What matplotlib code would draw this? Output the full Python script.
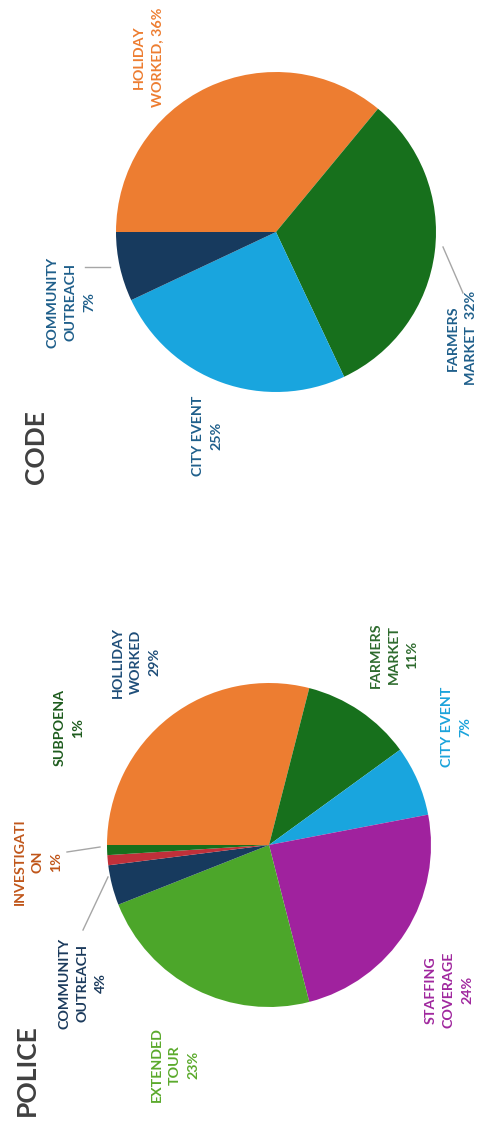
import matplotlib
matplotlib.use('Agg')
from matplotlib import pyplot as plt

plt.rcParams['font.family'] = ['Lato', 'DejaVu Sans']

# police overtime split (percent), clockwise from the top of the unrotated chart
police_labels = ['HOLLIDAY\nWORKED\n29%', 'FARMERS\nMARKET\n11%', 'CITY EVENT\n7%',
                 'STAFFING\nCOVERAGE\n24%', 'EXTENDED\nTOUR\n23%',
                 'COMMUNITY\nOUTREACH\n4%', 'INVESTIGATI\nON\n1%', 'SUBPOENA\n1%']
police_values = [29, 11, 7, 24, 23, 4, 1, 1]
police_colors = ['#ED7D31', '#17701C', '#19A5DE', '#A0229E', '#4CA62A',
                 '#173A5E', '#C0303A', '#17701C']
police_text_colors = ['#1F4E79', '#2E6B2E', '#1BA3DB', '#A0289E', '#5BAA2C',
                      '#1B3A5C', '#C0561A', '#1E5C1E']

# code enforcement split (percent)
code_labels = ['HOLIDAY\nWORKED, 36%', 'FARMERS\nMARKET  32%', 'CITY EVENT\n25%',
               'COMMUNITY\nOUTREACH\n7%']
code_values = [36, 32, 25, 7]
code_colors = ['#ED7D31', '#17701C', '#19A5DE', '#173A5E']
code_text_colors = ['#ED7D31', '#1F5F8B', '#1F5F8B', '#1F5F8B']

# label positions in pixel space (x, y from bottom)
police_pos = [(136, 473), (394, 480), (456, 408), (449, 145), (175, 70),
              (83, 152), (38, 273), (69, 407)]
code_pos = [(148, 1078), (462, 797), (207, 699), (71, 833)]

W, H = 479, 1135
fig = plt.figure(figsize=(W / 100, H / 100), dpi=100)
ax = fig.add_axes([0, 0, 1, 1])

# whole chart is turned 90 deg ccw, so the pies start at the left
ax.pie(police_values, colors=police_colors, startangle=180, counterclock=False,
       center=(269, 290), radius=162, frame=True, wedgeprops=dict(linewidth=0))
ax.pie(code_values, colors=code_colors, startangle=180, counterclock=False,
       center=(276, 903), radius=160, frame=True, wedgeprops=dict(linewidth=0))
ax.set_xlim(0, W)
ax.set_ylim(0, H)
ax.set_aspect('equal')
ax.axis('off')

for lab, c, (x, y) in zip(police_labels, police_text_colors, police_pos):
    ax.text(x, y, lab, rotation=90, ha='center', va='center', multialignment='center',
            color=c, fontsize=10.3, fontweight='bold', linespacing=1.62)
for lab, c, (x, y) in zip(code_labels, code_text_colors, code_pos):
    ax.text(x, y, lab, rotation=90, ha='center', va='center', multialignment='center',
            color=c, fontsize=10.3, fontweight='bold', linespacing=1.62)

# leader lines
for xs, ys in [((67, 100), (283, 288)), ((83, 108), (205, 258)),
               ((85, 110), (868, 868)), ((443, 463), (888, 842))]:
    ax.plot(xs, ys, color='#A6A6A6', lw=1)

ax.text(27, 65, 'POLICE', rotation=90, ha='center', va='center',
        color='#404040', fontsize=19, fontweight='bold')
ax.text(36, 688, 'CODE', rotation=90, ha='center', va='center',
        color='#404040', fontsize=19, fontweight='bold')

plt.savefig('out.png', dpi=100)
